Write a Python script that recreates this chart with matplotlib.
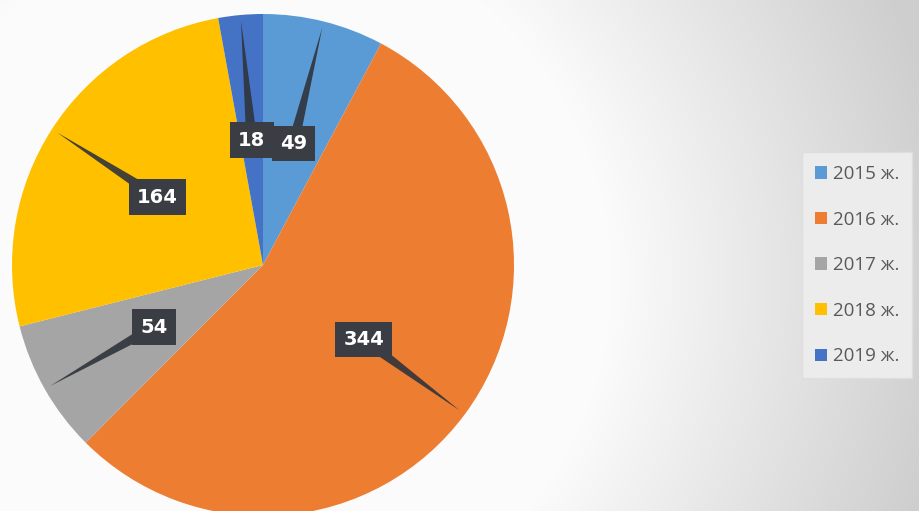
import numpy as np
import matplotlib
matplotlib.use("Agg")
import matplotlib.pyplot as plt

# data
years = ["2015 ж.", "2016 ж.", "2017 ж.", "2018 ж.", "2019 ж."]
values = [49, 344, 54, 164, 18]
colors = ["#5B9BD5", "#ED7D31", "#A5A5A5", "#FFC000", "#4472C4"]

W, H = 920, 511
px = 251.0                      # pixels per pie radius
cx, cy = 263, 246               # pie centre in pixels (from bottom-left)

fig = plt.figure(figsize=(W / 100, H / 100), dpi=100)
ax = fig.add_axes([0, 0, 1, 1])
xlim = (-cx / px, (W - cx) / px)
ylim = (-cy / px, (H - cy) / px)

# background: soft radial gradient, white left-centre, grey to the right
gx, gy = np.meshgrid(np.arange(W), np.arange(H))
r = np.hypot(gx - 250, gy - (H - 280))
shade = 0.985 - 0.175 * np.clip((r - 360) / 340, 0, 1)
bg = np.dstack([shade, shade, shade])
ax.imshow(bg, extent=(*xlim, *ylim), origin="lower", aspect="auto", zorder=0)

wedges, _ = ax.pie(values, colors=colors, startangle=90, counterclock=False,
                   radius=1.0, center=(0, 0), frame=True,
                   wedgeprops=dict(linewidth=0, zorder=1))

# callout labels with tapered pointers
for w, v in zip(wedges, values):
    ang = np.deg2rad((w.theta1 + w.theta2) / 2)
    d = np.array([np.cos(ang), np.sin(ang)])
    n = np.array([-d[1], d[0]])
    lab = 0.5 * d
    tip = 0.975 * d
    hw = 0.022
    poly = np.array([lab + n * hw, tip, lab - n * hw])
    ax.fill(poly[:, 0], poly[:, 1], color="#2f343b", alpha=0.9, zorder=3, lw=0)
    ax.text(lab[0], lab[1], str(v), ha="center", va="center", color="white",
            fontsize=14, fontweight="bold", family="DejaVu Sans", zorder=4,
            bbox=dict(boxstyle="square,pad=0.42", fc="#3a3e44", ec="none"))

ax.set_xlim(*xlim)
ax.set_ylim(*ylim)
ax.set_aspect("auto")
ax.axis("off")

leg = fig.legend(wedges, years, loc="upper left",
                 bbox_to_anchor=(802 / W, 1 - 152 / H), borderaxespad=0,
                 frameon=True, fancybox=False, framealpha=1,
                 facecolor="#ececec", edgecolor="#dedede",
                 prop={"family": "Open Sans", "size": 13.5},
                 labelcolor="#595959", labelspacing=1.47,
                 handlelength=0.65, handleheight=0.65, handletextpad=0.3,
                 borderpad=0.7)

fig.savefig("out.png", dpi=100)
